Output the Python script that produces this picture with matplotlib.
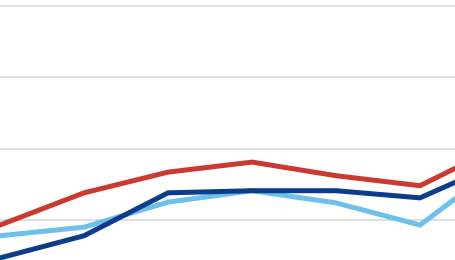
import numpy as np
import matplotlib
matplotlib.use("Agg")
import matplotlib.pyplot as plt

# points along the x axis (chart is cropped on the right)
x = np.arange(7)

# series values
red = [9.3, 13.8, 16.7, 18.1, 16.2, 14.8, 20.6]
dark_blue = [4.7, 7.8, 13.8, 14.1, 14.1, 13.1, 18.3]
light_blue = [7.8, 9.0, 12.5, 14.1, 12.4, 9.3, 18.1]

grid_vals = [10, 20, 30, 40]

fig = plt.figure(figsize=(4.56, 2.60), dpi=100)
ax = fig.add_axes([0, 0, 1, 1])

for g in grid_vals:
    ax.axhline(g, color='#d9d9d9', lw=1.2, zorder=0)

lw = 3.6
ax.plot(x, light_blue, color='#6cc0ea', lw=lw, solid_joinstyle='miter', zorder=2)
ax.plot(x, dark_blue, color='#0b3d8c', lw=lw, solid_joinstyle='miter', zorder=3)
ax.plot(x, red, color='#cc3a2f', lw=lw, solid_joinstyle='miter', zorder=4)

ax.set_xlim(0, 456 / 84)
ax.set_ylim(4.41, 40.77)
ax.axis('off')

fig.savefig('out.png', dpi=100)
